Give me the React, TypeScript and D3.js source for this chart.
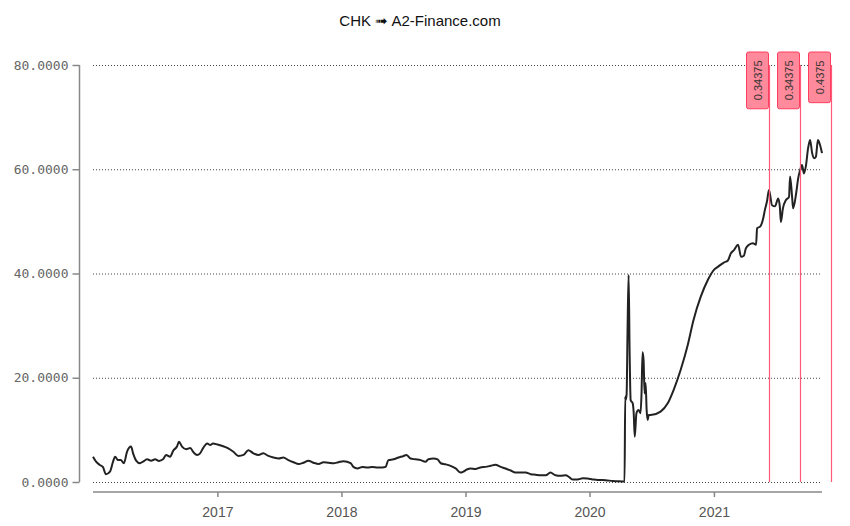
import React, { useEffect, useRef } from "react";
import * as d3 from "d3";

// price series, split per year
const dates2016 = ["2016-01-01","2016-01-10","2016-01-21","2016-01-30","2016-02-08","2016-02-20","2016-02-29","2016-03-06","2016-03-15","2016-03-23","2016-04-01","2016-04-10","2016-04-22","2016-04-28","2016-05-07","2016-05-18","2016-05-27","2016-06-08","2016-06-20","2016-07-02","2016-07-13","2016-07-25","2016-08-03","2016-08-15","2016-08-24","2016-09-04","2016-09-10","2016-09-19","2016-10-01","2016-10-13","2016-10-24","2016-11-02","2016-11-11","2016-11-20","2016-12-02","2016-12-11","2016-12-19"];
const prices2016 = [4.85,3.9,3.26,2.9,1.5,2.0,3.9,4.85,4.2,4.2,3.6,5.8,6.8,5.5,4.1,3.6,3.9,4.35,4.1,4.35,4.05,4.35,5.2,4.85,6.0,6.8,7.7,6.8,6.3,6.5,5.6,5.2,5.5,6.5,7.4,7.1,7.4];

const dates2017 = ["2017-01-01","2017-01-16","2017-02-02","2017-02-17","2017-03-04","2017-03-19","2017-04-02","2017-04-17","2017-05-02","2017-05-16","2017-05-31","2017-06-15","2017-06-30","2017-07-14","2017-07-29","2017-08-13","2017-08-28","2017-09-11","2017-09-26","2017-10-11","2017-10-26","2017-11-09","2017-11-24","2017-12-09","2017-12-23"];
const prices2017 = [7.2,6.9,6.45,5.8,5.0,5.2,6.1,5.5,5.2,5.5,5.0,4.7,4.5,4.7,4.2,3.8,3.45,3.7,4.1,3.7,3.45,3.8,3.7,3.6,3.8];

const dates2018 = ["2018-01-07","2018-01-28","2018-02-05","2018-02-17","2018-03-04","2018-03-19","2018-04-02","2018-04-17","2018-05-02","2018-05-11","2018-05-19","2018-06-03","2018-06-18","2018-07-03","2018-07-11","2018-07-23","2018-08-07","2018-08-22","2018-09-05","2018-09-14","2018-09-29","2018-10-11","2018-10-20","2018-11-03","2018-11-18","2018-12-03","2018-12-18","2018-12-26"];
const prices2018 = [4.0,3.6,2.9,2.6,2.9,2.8,2.9,2.8,2.8,2.9,4.2,4.35,4.7,5.0,5.2,4.5,4.35,4.2,3.9,4.35,4.5,4.35,3.6,3.4,3.1,2.6,1.8,2.0];

const dates2019 = ["2019-01-05","2019-01-16","2019-01-30","2019-02-14","2019-03-01","2019-03-16","2019-03-30","2019-04-14","2019-04-29","2019-05-14","2019-05-28","2019-06-12","2019-06-27","2019-07-12","2019-07-26","2019-08-10","2019-08-25","2019-09-08","2019-09-23","2019-10-08","2019-10-23","2019-11-01","2019-11-12","2019-11-27","2019-12-12","2019-12-26"];
const prices2019 = [2.4,2.6,2.5,2.8,2.9,3.1,3.3,2.9,2.6,2.2,1.8,1.8,1.8,1.5,1.4,1.3,1.3,1.8,1.3,1.2,1.3,1.0,0.5,0.5,0.7,0.65];

const dates2020 = ["2020-01-10","2020-01-25","2020-02-08","2020-02-23","2020-03-09","2020-03-23","2020-04-07","2020-04-13","2020-04-15","2020-04-16","2020-04-19","2020-04-22","2020-04-25","2020-04-28","2020-05-01","2020-05-07","2020-05-10","2020-05-13","2020-05-18","2020-05-24","2020-05-30","2020-06-02","2020-06-05","2020-06-08","2020-06-11","2020-06-14","2020-06-17","2020-06-20","2020-06-23","2020-06-29","2020-07-28","2020-08-18","2020-09-04","2020-09-25","2020-10-16","2020-11-02","2020-11-23","2020-12-14"];
const prices2020 = [0.5,0.4,0.4,0.3,0.2,0.15,0.1,0.1,16.4,15.7,16.7,29.8,39.7,24.7,15.7,15.1,13.2,8.7,13.2,13.8,13.2,17,24.9,23.4,17,19,13.8,11.9,12.85,12.85,13.5,15.1,17.6,21.5,26.3,31.1,35.5,38.75];

const dates2021 = ["2021-01-01","2021-01-13","2021-01-30","2021-02-11","2021-02-20","2021-03-01","2021-03-13","2021-03-22","2021-03-30","2021-04-05","2021-04-14","2021-04-26","2021-05-05","2021-05-08","2021-05-17","2021-05-25","2021-05-31","2021-06-06","2021-06-12","2021-06-21","2021-06-30","2021-07-09","2021-07-14","2021-07-17","2021-07-23","2021-08-01","2021-08-10","2021-08-13","2021-08-19","2021-08-22","2021-08-31","2021-09-06","2021-09-12","2021-09-17","2021-09-23","2021-09-29","2021-10-05","2021-10-11","2021-10-17","2021-10-23","2021-10-28","2021-11-03","2021-11-09","2021-11-15"];
const prices2021 = [40.7,41.3,42.1,42.5,43.9,44.5,45.5,43.2,43.4,44.8,45.5,45.8,45.5,48.7,49,50.3,52.2,53.8,56.0,53.1,52.9,54.4,52.8,49.9,52.5,54.1,54.7,58.6,54.7,52.5,55.4,58.3,59.9,60.8,59.2,60.8,64.0,65.6,63.1,62.1,62.4,65.6,64.7,63.1];

// dividend markers
const divDates = ["2021-06-11", "2021-09-11", "2021-12-11"];
const divAmounts = ["0.34375", "0.34375", "0.4375"];

const yTicks = [0, 20, 40, 60, 80];
const xTickYears = ["2017-01-01", "2018-01-01", "2019-01-01", "2020-01-01", "2021-01-01"];
const title = "CHK \u279F A2-Finance.com";

const width = 850;
const height = 526;

const App: React.FC = () => {
  const svgRef = useRef<SVGSVGElement>(null);

  useEffect(() => {
    if (!svgRef.current) return;
    const parse = d3.timeParse("%Y-%m-%d");
    const allDates = [...dates2016, ...dates2017, ...dates2018, ...dates2019, ...dates2020, ...dates2021];
    const allPrices = [...prices2016, ...prices2017, ...prices2018, ...prices2019, ...prices2020, ...prices2021];
    const data = allDates.map((d, i) => [parse(d) as Date, allPrices[i]] as [Date, number]);

    const svg = d3.select(svgRef.current);
    svg.selectAll("*").remove();

    const x = d3
      .scaleTime()
      .domain(d3.extent(data, (d) => d[0]) as [Date, Date])
      .range([93, 822]);
    const y = d3.scaleLinear().domain([0, 80]).range([482, 65]);

    // title
    svg
      .append("text")
      .attr("x", 420)
      .attr("y", 26)
      .attr("text-anchor", "middle")
      .attr("font-family", "Liberation Sans, Arial, sans-serif")
      .attr("font-size", 15)
      .attr("fill", "#111")
      .text(title);

    // grid
    svg
      .append("g")
      .selectAll("line")
      .data(yTicks)
      .join("line")
      .attr("x1", 93)
      .attr("x2", 822)
      .attr("y1", (d) => y(d) + 0.5)
      .attr("y2", (d) => y(d) + 0.5)
      .attr("stroke", "#444")
      .attr("stroke-width", 1)
      .attr("stroke-dasharray", "1,2");

    // y axis
    const yAxis = svg
      .append("g")
      .attr("transform", "translate(79.5,0)")
      .call(d3.axisLeft(y).tickValues(yTicks).tickFormat(d3.format(".4f")).tickSize(7).tickPadding(4));
    yAxis.select(".domain").attr("stroke", "#888").attr("stroke-width", 1.5).attr("d", `M0,${y(80)}V${y(0)}`);
    yAxis.selectAll(".tick line").attr("stroke", "#888").attr("stroke-width", 1.5);
    yAxis
      .selectAll(".tick text")
      .attr("font-family", "DejaVu Sans Mono, monospace")
      .attr("font-size", 13)
      .attr("fill", "#666");

    // x axis
    const xAxis = svg
      .append("g")
      .attr("transform", "translate(0,492)")
      .call(
        d3
          .axisBottom(x)
          .tickValues(xTickYears.map((d) => parse(d) as Date))
          .tickFormat(d3.timeFormat("%Y") as any)
          .tickSize(5)
          .tickPadding(10)
      );
    xAxis.select(".domain").attr("stroke", "#888").attr("stroke-width", 1.5).attr("d", `M93,0H822`);
    xAxis.selectAll(".tick line").attr("stroke", "#888").attr("stroke-width", 1.5);
    xAxis
      .selectAll(".tick text")
      .attr("font-family", "Liberation Sans, Arial, sans-serif")
      .attr("font-size", 14)
      .attr("fill", "#555");

    // price line
    const line = d3
      .line<[Date, number]>()
      .x((d) => x(d[0]))
      .y((d) => y(d[1]))
      .curve(d3.curveMonotoneX);

    svg
      .append("path")
      .datum(data)
      .attr("fill", "none")
      .attr("stroke", "#222")
      .attr("stroke-width", 2)
      .attr("stroke-linejoin", "round")
      .attr("d", line);

    // dividend markers
    divDates.forEach((ds, i) => {
      const lx = Math.round(x(parse(ds) as Date)) + 0.5;
      const g = svg.append("g");
      g.append("line")
        .attr("x1", lx)
        .attr("x2", lx)
        .attr("y1", y(80))
        .attr("y2", y(0))
        .attr("stroke", "#ff5a78")
        .attr("stroke-width", 1.2);
      const rect = g.append("rect");
      const txt = g
        .append("text")
        .attr("font-family", "Liberation Sans, Arial, sans-serif")
        .attr("font-size", 11)
        .attr("fill", "#333")
        .attr("text-anchor", "middle")
        .attr("dominant-baseline", "central")
        .text(divAmounts[i]);
      const tw = (txt.node() as SVGTextElement).getComputedTextLength();
      const h = tw + 17;
      const top = y(80) - 13;
      const cx = lx - 12;
      rect
        .attr("x", lx - 23)
        .attr("y", top)
        .attr("width", 22)
        .attr("height", h)
        .attr("rx", 2)
        .attr("fill", "#ff8a9b")
        .attr("stroke", "#ff3d5e")
        .attr("stroke-width", 1);
      txt.attr("transform", `translate(${cx},${top + h / 2}) rotate(-90)`);
    });
  }, []);

  return (
    <svg
      ref={svgRef}
      width={width}
      height={height}
      style={{ position: "absolute", left: 0, top: 0, background: "#fff" }}
    />
  );
};

export default App;
